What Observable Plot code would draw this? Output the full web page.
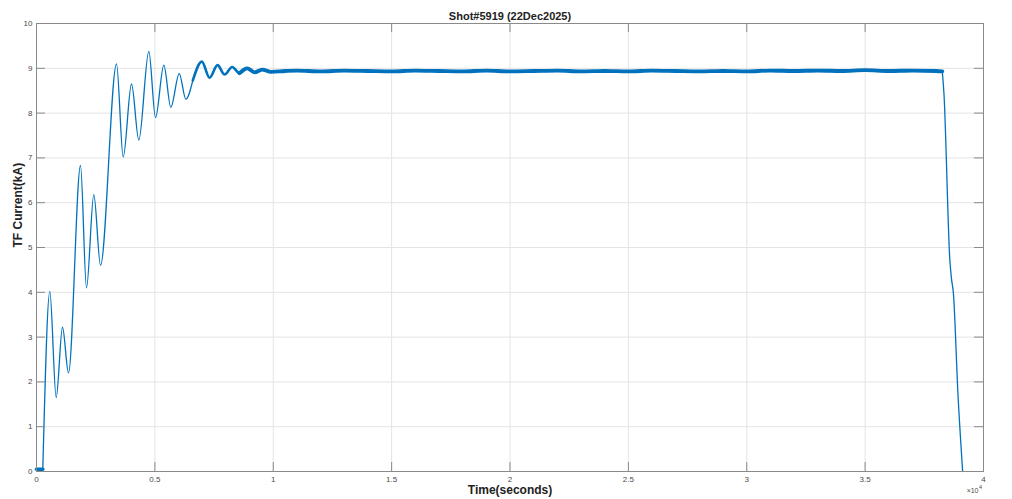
<!DOCTYPE html>
<html>
<head>
<meta charset="utf-8">
<script src="https://cdn.jsdelivr.net/npm/d3@7"></script>
<script src="https://cdn.jsdelivr.net/npm/@observablehq/plot@0.6"></script>
<style>
  html, body { margin: 0; padding: 0; background: #fff; }
  #chart svg { display: block; }
</style>
</head>
<body>
<div id="chart"></div>
<script>
// Time axis values are in units of 10^4 seconds (as the axis shows "×10^4")
const xTicks = [0, 0.5, 1, 1.5, 2, 2.5, 3, 3.5, 4];
const yTicks = [0, 1, 2, 3, 4, 5, 6, 7, 8, 9, 10];

// pre-trigger baseline (thick, noisy)
const preTime = [0, 0.0266];
const preCurrent = [0.05, 0.05];

// ramp-up with oscillations (thin)
const rampTime = [0.0266, 0.0562, 0.0832, 0.1098, 0.1352, 0.1859, 0.2112, 0.2421, 0.2704,
  0.338, 0.3663, 0.4013, 0.4322, 0.4744, 0.5027, 0.5378, 0.5674, 0.6029, 0.6308, 0.6603];
const rampCurrent = [0.05, 4.02, 1.65, 3.22, 2.2, 6.83, 4.1, 6.18, 4.6,
  9.1, 7.02, 8.65, 7.4, 9.38, 7.9, 9.07, 8.13, 8.88, 8.31, 8.73];

// settling oscillations (medium, noise starts)
const settleTime = [0.6603, 0.6984, 0.7309, 0.7647, 0.7943, 0.8268, 0.8576, 0.8901, 0.921, 0.9535, 0.99];
const settleCurrent = [8.73, 9.15, 8.79, 9.07, 8.86, 9.03, 8.89, 9.0, 8.91, 8.97, 8.92];

// flat-top (thick, noisy band)
const flatTime = [0.8576, 0.8901, 0.921, 0.9535,
  0.99, 1.05, 1.1, 1.2, 1.3, 1.4, 1.5, 1.6, 1.7, 1.8, 1.9, 2.0, 2.1, 2.2, 2.3, 2.4, 2.5,
  2.6, 2.7, 2.8, 2.9, 3.0, 3.1, 3.2, 3.3, 3.4, 3.5, 3.6, 3.7, 3.8, 3.826];
const flatCurrent = [8.89, 9.0, 8.91, 8.97,
  8.92, 8.94, 8.95, 8.93, 8.95, 8.94, 8.93, 8.95, 8.94, 8.93, 8.95, 8.93, 8.94, 8.95, 8.93, 8.94, 8.93,
  8.95, 8.94, 8.93, 8.94, 8.93, 8.95, 8.94, 8.95, 8.94, 8.96, 8.94, 8.95, 8.94, 8.93];

// ramp-down (thin)
const dropTime = [3.826, 3.833, 3.858, 3.864, 3.873, 3.892, 3.912];
const dropCurrent = [8.93, 8.43, 4.71, 4.34, 3.97, 1.74, 0];

const title = "Shot#5919 (22Dec2025)";
const xLabel = "Time(seconds)";
const yLabel = "TF Current(kA)";

const toRows = (ts, cs) => ts.map((t, i) => ({t, c: cs[i]}));
const pre = toRows(preTime, preCurrent);
const ramp = toRows(rampTime, rampCurrent);
const settle = toRows(settleTime, settleCurrent);
const flat = toRows(flatTime, flatCurrent);
const drop = toRows(dropTime, dropCurrent);

const blue = "#0072BD";
const axisGray = "#8a8a8a";
const gridGray = "#e4e4e4";
const font = "'Liberation Sans', Arial, Helvetica, sans-serif";
const xTickLen = 9 / 236.75; // inward tick length in data units
const yTickLen = 9 / 44.8;

const chart = Plot.plot({
  width: 1012,
  height: 499,
  marginLeft: 36,
  marginRight: 29,
  marginTop: 23,
  marginBottom: 28,
  x: {domain: [0, 4]},
  y: {domain: [0, 10]},
  style: {fontFamily: font, background: "#fff"},
  marks: [
    Plot.gridX(xTicks, {stroke: gridGray, strokeOpacity: 1}),
    Plot.gridY(yTicks, {stroke: gridGray, strokeOpacity: 1}),
    Plot.axisX(xTicks, {tickSize: 0, tickPadding: 5, fontSize: 8, fill: "#4a4a4a", label: null, tickFormat: d => String(d)}),
    Plot.axisY(yTicks, {tickSize: 0, tickPadding: 4, fontSize: 8, fill: "#4a4a4a", label: null, tickFormat: d => String(d)}),
    Plot.line(pre, {x: "t", y: "c", stroke: blue, strokeWidth: 3.5}),
    Plot.line(ramp, {x: "t", y: "c", stroke: blue, strokeWidth: 1.3, curve: "monotone-x"}),
    Plot.line(settle, {x: "t", y: "c", stroke: blue, strokeWidth: 2.6, curve: "monotone-x", strokeLinecap: "round"}),
    Plot.line(flat, {x: "t", y: "c", stroke: blue, strokeWidth: 3.8, curve: "monotone-x", strokeLinecap: "round"}),
    Plot.line(drop, {x: "t", y: "c", stroke: blue, strokeWidth: 1.3, curve: "monotone-x"}),
    // inward ticks on all four sides
    Plot.ruleX(xTicks, {x: d => d, y1: 0, y2: yTickLen, stroke: axisGray}),
    Plot.ruleX(xTicks, {x: d => d, y1: 10 - yTickLen, y2: 10, stroke: axisGray}),
    Plot.ruleY(yTicks, {y: d => d, x1: 0, x2: xTickLen, stroke: axisGray}),
    Plot.ruleY(yTicks, {y: d => d, x1: 4 - xTickLen, x2: 4, stroke: axisGray}),
    Plot.frame({stroke: axisGray}),
    Plot.text([title], {text: d => d, frameAnchor: "top", dy: -11, fontSize: 11, fontWeight: "bold", fill: "#222"}),
    Plot.text([xLabel], {text: d => d, frameAnchor: "bottom", dy: 22, fontSize: 12, fontWeight: "bold", fill: "#222"}),
    Plot.text([yLabel], {text: d => d, frameAnchor: "left", dx: -18, rotate: -90, fontSize: 12, fontWeight: "bold", fill: "#222"}),
    Plot.text(["×10"], {text: d => d, frameAnchor: "bottom-right", dx: -5, dy: 21, textAnchor: "end", fontSize: 7, fill: "#4a4a4a"}),
    Plot.text(["4"], {text: d => d, frameAnchor: "bottom-right", dx: -4.5, dy: 17, textAnchor: "start", fontSize: 5.5, fill: "#4a4a4a"})
  ]
});
document.getElementById("chart").appendChild(chart);
</script>
</body>
</html>
